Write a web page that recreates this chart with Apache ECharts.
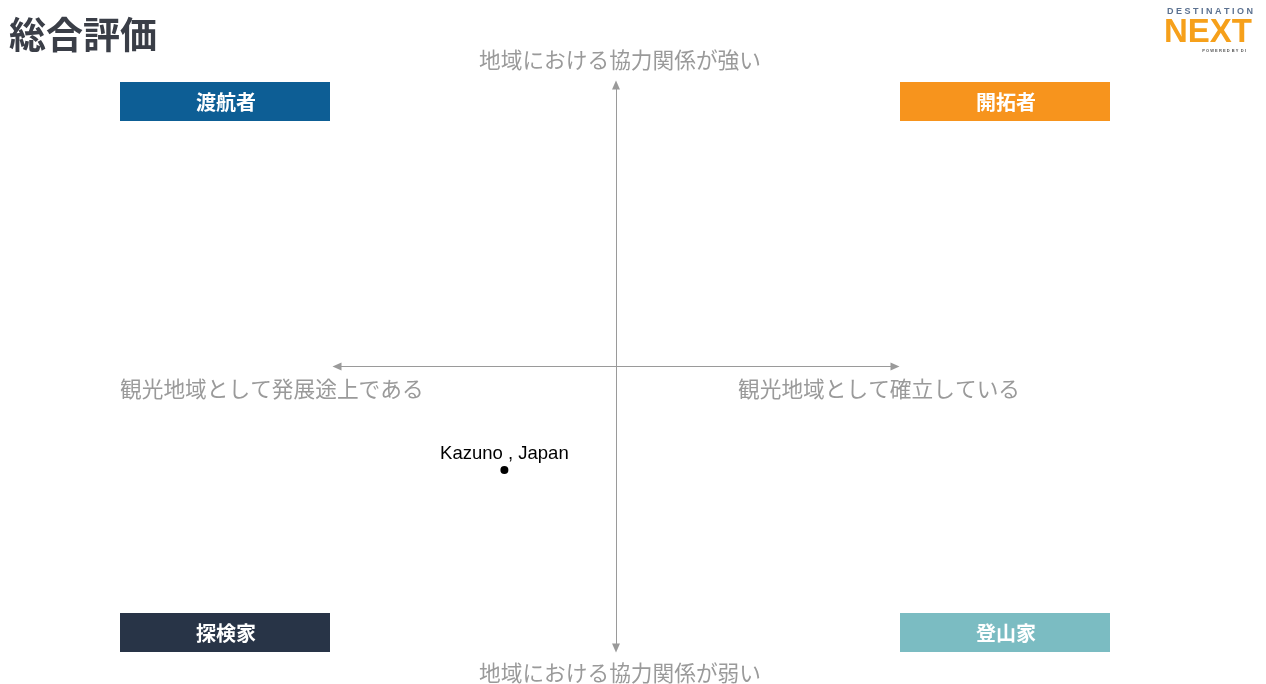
<!DOCTYPE html>
<html>
<head>
<meta charset="utf-8">
<script src="https://cdn.jsdelivr.net/npm/echarts@6/dist/echarts.min.js"></script>
<style>
  html, body { margin: 0; padding: 0; background: #fff; }
  #chart { width: 1266px; height: 684px; }
</style>
</head>
<body>
<div id="chart"></div>
<script>
// destinations plotted (x: 確立度, y: 協力関係), axis range -1..1
const destNames = ['Kazuno , Japan']
const destX = [-0.4]
const destY = [-0.368]

const quadrantNames = ['渡航者', '開拓者', '探検家', '登山家']
const quadrantColors = ['#0d5e95', '#f7941d', '#283447', '#7bbcc2']

const axisTexts = {
  top: '地域における協力関係が強い',
  bottom: '地域における協力関係が弱い',
  left: '観光地域として発展途上である',
  right: '観光地域として確立している'
}

const FONT = '"Noto Sans CJK JP", "Noto Sans", sans-serif'
const chart = echarts.init(document.getElementById('chart'))

const quadBox = (i, left, top) => ({
  type: 'group',
  left, top,
  children: [
    { type: 'rect', shape: { x: 0, y: 0, width: 210, height: 39 }, style: { fill: quadrantColors[i] } },
    {
      type: 'text', x: 106, y: 20,
      style: {
        text: quadrantNames[i], fill: '#fff', font: 'bold 20px ' + FONT,
        align: 'center', verticalAlign: 'middle'
      }
    }
  ]
})

const axisText = (text, x, y, align) => ({
  type: 'text', x, y,
  style: { text, fill: '#9a9a9a', font: '21.7px ' + FONT, align, verticalAlign: 'middle' }
})

const hiddenAxis = {
  type: 'value',
  min: -1,
  max: 1,
  axisLine: {
    show: true,
    onZero: true,
    symbol: ['triangle', 'triangle'],
    symbolSize: [8, 9],
    lineStyle: { color: '#9a9a9a', width: 1 }
  },
  axisTick: { show: false },
  axisLabel: { show: false },
  splitLine: { show: false }
}

const option = {
  backgroundColor: '#fff',
  animation: false,
  grid: { left: 337, top: 85, width: 558, height: 563 },
  xAxis: hiddenAxis,
  yAxis: hiddenAxis,
  series: [{
    type: 'scatter',
    symbolSize: 8,
    itemStyle: { color: '#000', opacity: 1 },
    data: destX.map((x, i) => [x, destY[i], destNames[i]]),
    label: {
      show: true,
      position: 'top',
      distance: 3,
      formatter: p => p.data[2],
      color: '#000',
      fontSize: 18.5,
      fontFamily: 'Liberation Sans, Arial, sans-serif'
    }
  }],
  graphic: [
    {
      type: 'text', left: 9, top: 16,
      style: { text: '総合評価', fill: '#3a3e47', font: 'bold 37px ' + FONT }
    },
    // logo
    {
      type: 'text', x: 1210, y: 12,
      style: { text: 'D E S T I N A T I O N', fill: '#5b7190', font: 'bold 9px Liberation Sans, sans-serif', align: 'center', verticalAlign: 'middle' }
    },
    {
      type: 'text', x: 1208, y: 33,
      style: { text: 'NEXT', fill: '#f6a01a', font: 'bold 33px Liberation Sans, sans-serif', align: 'center', verticalAlign: 'middle' }
    },
    {
      type: 'text', x: 1224, y: 51,
      style: { text: 'P O W E R E D  B Y  D I', fill: '#555', font: 'bold 4px Liberation Sans, sans-serif', align: 'center', verticalAlign: 'middle' }
    },
    quadBox(0, 120, 82),
    quadBox(1, 900, 82),
    quadBox(2, 120, 613),
    quadBox(3, 900, 613),
    axisText(axisTexts.top, 620, 60, 'center'),
    axisText(axisTexts.bottom, 620, 673, 'center'),
    axisText(axisTexts.left, 120, 389, 'left'),
    axisText(axisTexts.right, 1020, 389, 'right')
  ]
}

chart.setOption(option)
window.addEventListener('resize', () => chart.resize())
</script>
</body>
</html>
